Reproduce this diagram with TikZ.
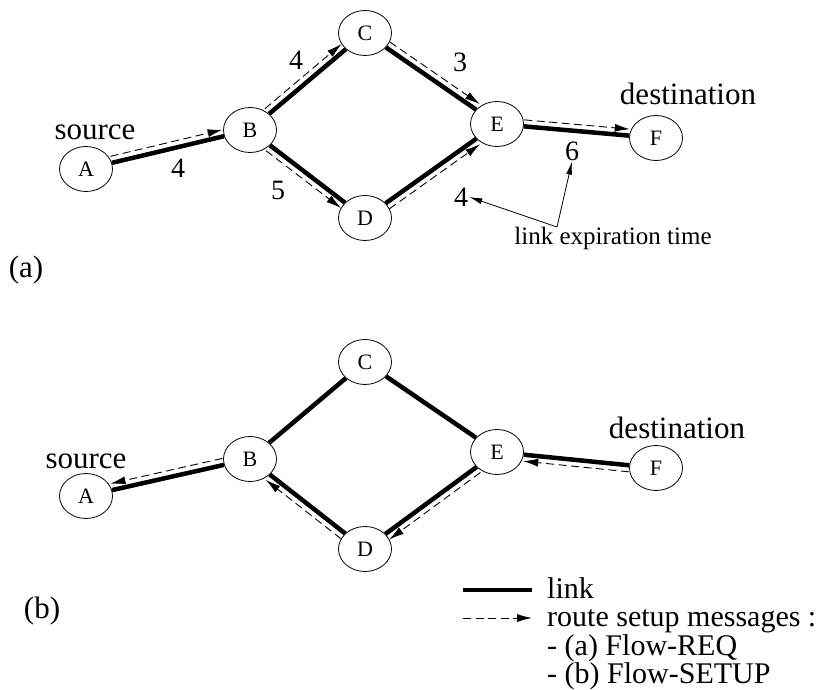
\documentclass[tikz,border=0pt]{standalone}
\usepackage{fontspec}
\setmainfont{Liberation Serif}
\usetikzlibrary{shapes.geometric,arrows.meta}
\begin{document}
\begin{tikzpicture}[x=1pt,y=-1pt,
  nd/.style={ellipse,draw,line width=0.8pt,minimum width=53pt,minimum height=45pt,inner sep=0pt,font=\fontsize{22}{22}\selectfont},
  lnk/.style={line width=4.5pt},
  msg/.style={line width=0.9pt,dash pattern=on 8pt off 4.5pt,-{Latex[length=15pt,width=8pt]}},
  note/.style={line width=0.8pt,-{Latex[length=13pt,width=6pt]}},
  elab/.style={inner sep=1pt,font=\fontsize{28}{28}\selectfont},
  big/.style={inner sep=0pt,font=\fontsize{31}{31}\selectfont},
  leg/.style={inner sep=0pt,font=\fontsize{30}{30}\selectfont,anchor=base west,text height=19pt,text depth=5pt},
  mid/.style={inner sep=0pt,font=\fontsize{25}{25}\selectfont},
]
\useasboundingbox (0,0) rectangle (831,690);

% ---------------- (a) ----------------
\node[nd] (A1) at (86,169) {A};
\node[nd] (B1) at (250,130) {B};
\node[nd] (C1) at (365,33) {C};
\node[nd] (D1) at (365,218) {D};
\node[nd] (E1) at (497,124) {E};
\node[nd] (F1) at (656,138) {F};

\draw[lnk] (A1) -- (B1);
\draw[lnk] (B1) -- (C1);
\draw[lnk] (C1) -- (E1);
\draw[lnk] (B1) -- (D1);
\draw[lnk] (D1) -- (E1);
\draw[lnk] (E1) -- (F1);

\draw[msg,transform canvas={shift={(-1.5,-6.5)}}] (A1) -- (B1);
\draw[msg,transform canvas={shift={(-4.3,-5.1)}}] (B1) -- (C1);
\draw[msg,transform canvas={shift={(3.8,-5.5)}}] (C1) -- (E1);
\draw[msg,transform canvas={shift={(-4,5.4)}}] (B1) -- (D1);
\draw[msg,transform canvas={shift={(3.8,5.5)}}] (D1) -- (E1);
\draw[msg,transform canvas={shift={(0.5,-6.5)}}] (E1) -- (F1);

\node[big,anchor=base] (src1) at (95,140) {source};
\node[big,anchor=base] (dst1) at (688,105) {destination};

\node[elab] (lab1) at (178,168) {4};
\node[elab] (lab2) at (296,60) {4};
\node[elab] (lab3) at (278,190) {5};
\node[elab] (lab4) at (460,62) {3};
\node[elab] (lab5) at (461,197) {4};
\node[elab] (lab6) at (572,151) {6};

\node[mid,anchor=base] (exp) at (613,244) {link expiration time};
\coordinate (J) at (557,227);
\draw[note] (J) -- (lab5.east);
\draw[note] (J) -- (lab6.south);

\node[big,anchor=base] (la) at (26,277) {(a)};

% ---------------- (b) ----------------
\node[nd] (A2) at (86,496) {A};
\node[nd] (B2) at (250,459) {B};
\node[nd] (C2) at (365,362) {C};
\node[nd] (D2) at (365,549) {D};
\node[nd] (E2) at (497,452) {E};
\node[nd] (F2) at (656,468) {F};

\draw[lnk] (A2) -- (B2);
\draw[lnk] (B2) -- (C2);
\draw[lnk] (C2) -- (E2);
\draw[lnk] (B2) -- (D2);
\draw[lnk] (D2) -- (E2);
\draw[lnk] (E2) -- (F2);

\draw[msg,transform canvas={shift={(-1.5,-6.5)}}] (B2) -- (A2);
\draw[msg,transform canvas={shift={(-4,5.4)}}] (D2) -- (B2);
\draw[msg,transform canvas={shift={(3.8,5.5)}}] (E2) -- (D2);
\draw[msg,transform canvas={shift={(-0.5,6.5)}}] (F2) -- (E2);

\node[big,anchor=base] (src2) at (86,468) {source};
\node[big,anchor=base] (dst2) at (677,438) {destination};

\node[big,anchor=base] (lb) at (42,618) {(b)};

% ---------------- legend ----------------
\coordinate (L1) at (463,590);
\coordinate (L2) at (532,590);
\coordinate (M1) at (463,618);
\coordinate (M2) at (532,618);
\draw[lnk] (L1) -- (L2);
\draw[msg] (M1) -- (M2);
\node[leg] (t1) at (547,598) {link};
\node[leg] (t2) at (547,626) {route setup messages :};
\node[leg] (t3) at (547,655) {- (a) Flow-REQ};
\node[leg] (t4) at (547,683) {- (b) Flow-SETUP};
\end{tikzpicture}
\end{document}
